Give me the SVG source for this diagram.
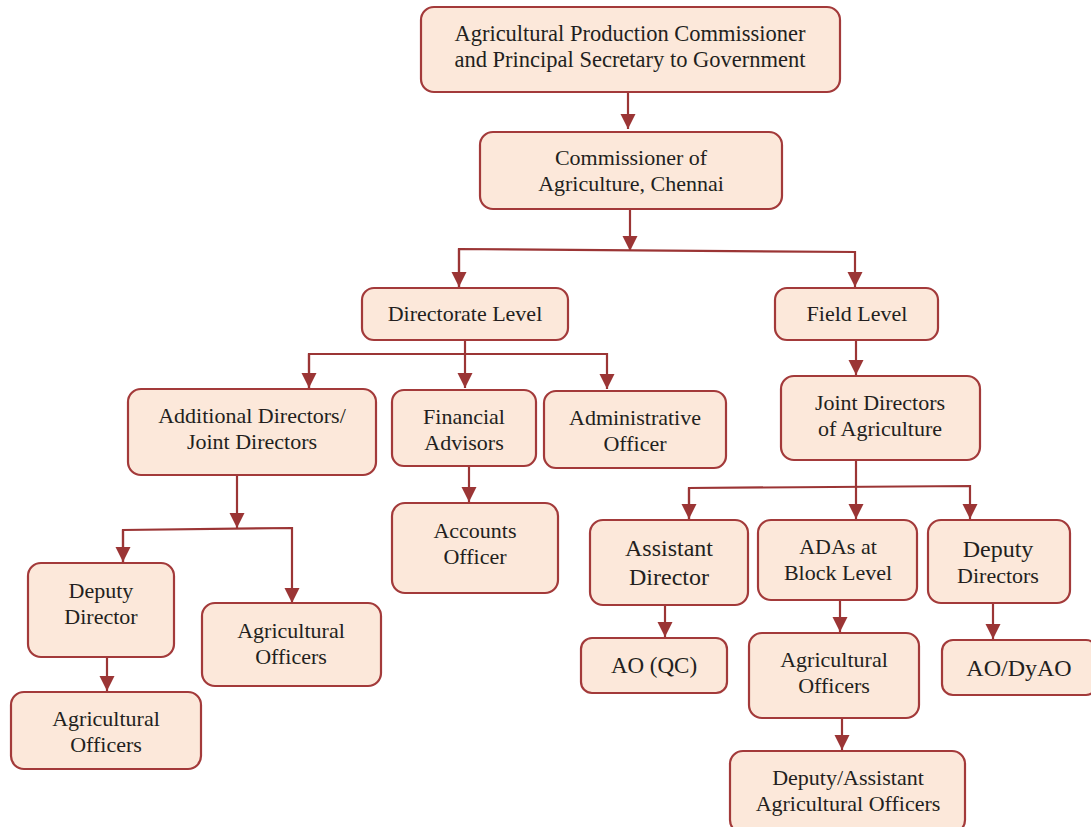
<svg xmlns="http://www.w3.org/2000/svg" width="1091" height="827" viewBox="0 0 1091 827">
<style>
.box{fill:#FCE8DA;stroke:#A33A3A;stroke-width:2.2}
.t{font-family:"Liberation Serif","Times New Roman",serif;font-size:22px;fill:#231F20;text-anchor:middle}
.big{font-size:24px}
.c{fill:none;stroke:#9B3535;stroke-width:2.2}
</style>
<defs>
<marker id="ah" markerUnits="userSpaceOnUse" markerWidth="16" markerHeight="16" refX="15" refY="7.5" orient="auto">
<path d="M0,0 L15,7.5 L0,15 z" fill="#9B3535"/>
</marker>
</defs>
<g id="connectors">
<path class="c" d="M628,92 V129" marker-end="url(#ah)"/>
<path class="c" d="M630,209 V251" marker-end="url(#ah)"/>
<path class="c" d="M459,287 V249 L855,252 V287" marker-end="url(#ah)"/>
<path class="c" d="M459,249 V287" marker-end="url(#ah)"/>
<path class="c" d="M465,340 V388" marker-end="url(#ah)"/>
<path class="c" d="M309,388 V354 H607 V389" marker-end="url(#ah)"/>
<path class="c" d="M309,354 V388" marker-end="url(#ah)"/>
<path class="c" d="M856,340 V375" marker-end="url(#ah)"/>
<path class="c" d="M856,460 V519" marker-end="url(#ah)"/>
<path class="c" d="M689,519 V488 L970,486 V519" marker-end="url(#ah)"/>
<path class="c" d="M689,488 V519" marker-end="url(#ah)"/>
<path class="c" d="M469,466 V502" marker-end="url(#ah)"/>
<path class="c" d="M237,475 V528" marker-end="url(#ah)"/>
<path class="c" d="M123,562 V530 L292,528 V603" marker-end="url(#ah)"/>
<path class="c" d="M123,530 V562" marker-end="url(#ah)"/>
<path class="c" d="M107,657 V691" marker-end="url(#ah)"/>
<path class="c" d="M665,605 V637" marker-end="url(#ah)"/>
<path class="c" d="M840,600 V632" marker-end="url(#ah)"/>
<path class="c" d="M993,604 V639" marker-end="url(#ah)"/>
<path class="c" d="M842,718 V750" marker-end="url(#ah)"/>
</g>
<g id="n1"><rect class="box" x="421" y="7" width="419" height="85" rx="13"/><text class="t" x="630" y="41" style="font-size:22.5px">Agricultural Production Commissioner</text><text class="t" x="630" y="67" style="font-size:22.5px">and Principal Secretary to Government</text></g>
<g id="n2"><rect class="box" x="480" y="132" width="302" height="77" rx="13"/><text class="t" x="631" y="165">Commissioner of</text><text class="t" x="631" y="191">Agriculture, Chennai</text></g>
<g id="n3"><rect class="box" x="362" y="288" width="206" height="52" rx="12"/><text class="t" x="465" y="321">Directorate Level</text></g>
<g id="n4"><rect class="box" x="775" y="288" width="163" height="52" rx="12"/><text class="t" x="857" y="321">Field Level</text></g>
<g id="n5"><rect class="box" x="128" y="389" width="248" height="86" rx="13"/><text class="t" x="252" y="423">Additional Directors/</text><text class="t" x="252" y="449">Joint Directors</text></g>
<g id="n6"><rect class="box" x="392" y="390" width="144" height="76" rx="12"/><text class="t" x="464" y="424">Financial</text><text class="t" x="464" y="450">Advisors</text></g>
<g id="n7"><rect class="box" x="544" y="391" width="182" height="77" rx="12"/><text class="t" x="635" y="425">Administrative</text><text class="t" x="635" y="451">Officer</text></g>
<g id="n8"><rect class="box" x="781" y="376" width="199" height="84" rx="13"/><text class="t" x="880" y="410">Joint Directors</text><text class="t" x="880" y="436">of Agriculture</text></g>
<g id="n9"><rect class="box" x="392" y="503" width="166" height="90" rx="13"/><text class="t" x="475" y="538">Accounts</text><text class="t" x="475" y="564">Officer</text></g>
<g id="n10"><rect class="box" x="28" y="563" width="146" height="94" rx="13"/><text class="t" x="101" y="598">Deputy</text><text class="t" x="101" y="624">Director</text></g>
<g id="n11"><rect class="box" x="202" y="603" width="179" height="83" rx="13"/><text class="t" x="291" y="638">Agricultural</text><text class="t" x="291" y="664">Officers</text></g>
<g id="n12"><rect class="box" x="11" y="692" width="190" height="77" rx="13"/><text class="t" x="106" y="726">Agricultural</text><text class="t" x="106" y="752">Officers</text></g>
<g id="n13"><rect class="box" x="590" y="520" width="158" height="85" rx="13"/><text class="t big" x="669" y="556">Assistant</text><text class="t big" x="669" y="585">Director</text></g>
<g id="n14"><rect class="box" x="758" y="520" width="159" height="80" rx="13"/><text class="t" x="838" y="554">ADAs at</text><text class="t" x="838" y="580">Block Level</text></g>
<g id="n15"><rect class="box" x="928" y="520" width="142" height="83" rx="13"/><text class="t big" x="998" y="557">Deputy</text><text class="t" x="998" y="583">Directors</text></g>
<g id="n16"><rect class="box" x="581" y="638" width="146" height="55" rx="11"/><text class="t" x="654" y="673" style="font-size:23px">AO (QC)</text></g>
<g id="n17"><rect class="box" x="749" y="633" width="170" height="85" rx="13"/><text class="t" x="834" y="667">Agricultural</text><text class="t" x="834" y="693">Officers</text></g>
<g id="n18"><rect class="box" x="942" y="640" width="155" height="55" rx="11"/><text class="t big" x="1019" y="676">AO/DyAO</text></g>
<g id="n19"><rect class="box" x="730" y="751" width="235" height="82" rx="13"/><text class="t" x="848" y="785">Deputy/Assistant</text><text class="t" x="848" y="811">Agricultural Officers</text></g>
</svg>
